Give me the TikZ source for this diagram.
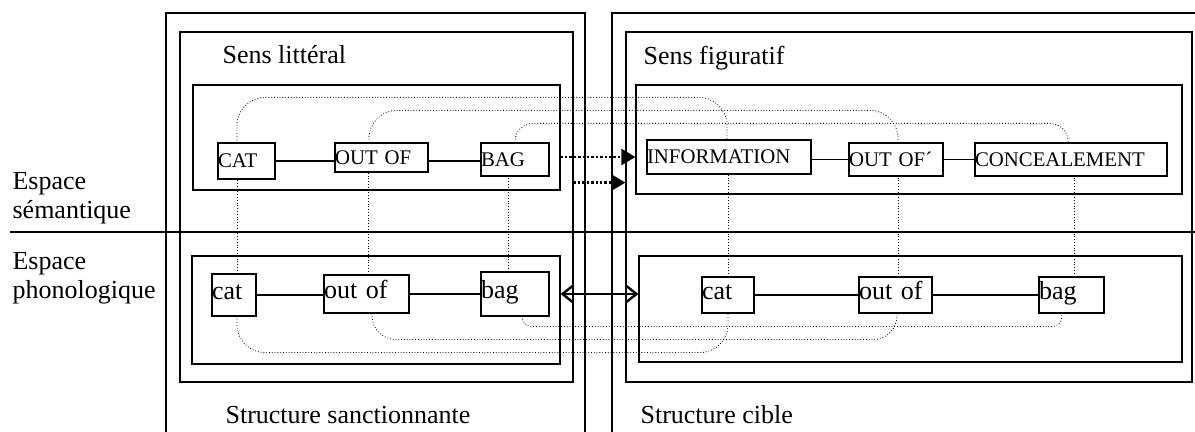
\documentclass[tikz,border=0pt]{standalone}
\usepackage{fontspec}
\setmainfont{Liberation Serif}
\usetikzlibrary{arrows.meta}

\begin{document}
\begin{tikzpicture}[
    x=0.5pt, y=-0.5pt,
    line width=0.6pt,
    font=\fontsize{13}{14.5}\selectfont,
    frame/.style={draw, inner sep=0pt},
    word/.style={draw, inner xsep=0pt, inner ysep=0pt, align=left, text height=0.8em, text depth=0.1em, font=\fontsize{10.4}{12}\selectfont},
    sound/.style={word, text height=0.7em, text depth=0.2em, font=\fontsize{13}{14.5}\selectfont},
    heading/.style={inner sep=0pt},
    link/.style={line width=0.4pt, densely dotted, rounded corners=14pt},
    dotarrow/.style={line width=1.2pt, densely dotted, -{Triangle[length=7pt, width=8pt]}},
    twoway/.style={line width=1.2pt, {Straight Barb[length=5pt, width=8pt]}-{Straight Barb[length=5pt, width=8pt]}}
]
   \useasboundingbox (0,0) rectangle (1195,432);

   % Structures
   \draw (166,432) |- (585,13) -- (585,432);
   \draw (612,432) |- (1195,13);
   \node[frame, minimum width=196.5pt, minimum height=175pt] (litB) at (376.5,207) {};
   \node[frame, minimum width=283pt, minimum height=175pt] (figB) at (909,207) {};
   \node[frame, minimum width=183.5pt, minimum height=52.5pt] (litS) at (376.5,137.5) {};
   \node[frame, minimum width=273pt, minimum height=54.5pt] (figS) at (909,139.5) {};
   \node[frame, minimum width=184pt, minimum height=54pt] (litP) at (376,310) {};
   \node[frame, minimum width=271.5pt, minimum height=53pt] (figP) at (910.5,309) {};
   \draw (10,232) -- (1195,232);

   % Titles
   \node[heading, anchor=base west] (sensL) at (222,64) {Sens littéral};
   \node[heading, anchor=base west] (sensF) at (643,65) {Sens figuratif};
   \node[heading, anchor=west, align=left] (espS) at (12,198) {Espace\\sémantique};
   \node[heading, anchor=west, align=left] (espP) at (12,278) {Espace\\phonologique};
   \node[heading, anchor=base west] (strL) at (225,424) {Structure sanctionnante};
   \node[heading, anchor=base west] (strC) at (640,424) {Structure cible};

   % Semantic units
   \node[word, text width=28.5pt, minimum height=18pt] (CAT) at (246.5,161) {CAT};
   \node[word, text width=46.5pt, minimum height=14.5pt] (OUT) at (381.5,157.5) {OUT OF};
   \node[word, text width=34pt, minimum height=16.5pt] (BAG) at (515,159.5) {BAG};
   \node[word, text width=82pt, minimum height=17pt] (INF) at (729,157) {INFORMATION};
   \node[word, text width=47pt, minimum height=16.5pt] (OUTF) at (896,159.5) {OUT OF´};
   \node[word, text width=96pt, minimum height=16.5pt] (CON) at (1071,159.5) {CONCEALEMENT};

   % Phonological units
   \node[sound, text width=22pt, minimum height=21pt] (catL) at (234,295) {cat};
   \node[sound, text width=42.5pt, minimum height=19pt] (outL) at (366.5,294) {out of};
   \node[sound, text width=34pt, minimum height=22pt] (bagL) at (515,294) {bag};
   \node[sound, text width=26pt, minimum height=18pt] (catR) at (728,295) {cat};
   \node[sound, text width=36.5pt, minimum height=18pt] (outR) at (895.5,295) {out of};
   \node[sound, text width=32.5pt, minimum height=18pt] (bagR) at (1071.5,295) {bag};

   % Sequences
   \draw (CAT.east) -- (CAT.east -| OUT.west);
   \draw (CAT.east -| OUT.east) -- (CAT.east -| BAG.west);
   \draw (OUTF.west -| INF.east) -- (OUTF.west);
   \draw (OUTF.east) -- (CON.west);
   \draw (catL.east) -- (catL.east -| outL.west);
   \draw (outL.east) -- (outL.east -| bagL.west);
   \draw (catR.east) -- (outR.west);
   \draw (outR.east) -- (bagR.west);

   % Symbolic links
   \draw[link] ([xshift=1.5pt]catL.north) -- ([xshift=1.5pt]catL.north |- CAT.south);
   \draw[link] ([xshift=1pt]outL.north) -- ([xshift=1pt]outL.north |- OUT.south);
   \draw[link] ([xshift=-3.5pt]bagL.north) -- ([xshift=-3.5pt]bagL.north |- BAG.south);
   \draw[link] (catR.north) -- (catR.north |- INF.south);
   \draw[link] ([xshift=1.5pt]outR.north) -- ([xshift=1.5pt]outR.north |- OUTF.south);
   \draw[link] ([xshift=1.25pt]bagR.north) -- ([xshift=1.25pt]bagR.north |- CON.south);

   % Correspondences
   \draw[link] ([xshift=-4.75pt]CAT.north) -- ++(0,-45) -| ([xshift=-1pt]INF.north);
   \draw[link] ([xshift=-6.25pt]OUT.north) -- ++(0,-32) -| ([xshift=1pt]OUTF.north);
   \draw[link, rounded corners=9pt] (BAG.north) -- ++(0,-19) -| ([xshift=-1.5pt]CON.north);
   \draw[link] ([xshift=1.5pt]catL.south) -- ++(0,36) -| (catR.south);
   \draw[link, rounded corners=12pt] ([xshift=2.75pt]outL.south) -- ++(0,26) -| ([xshift=0.75pt]outR.south);
   \draw[link, rounded corners=5pt] ([xshift=3.5pt]bagL.south) -- ++(0,10) -| ([xshift=-4.75pt]bagR.south);

   % Mappings
   \draw[dotarrow] (litS.east |- INF) -- (figS.west |- INF);
   \draw[dotarrow] ([yshift=-1.5pt]litB.east |- CAT.south) -- ([yshift=-1.5pt]figB.west |- CAT.south);
   \draw[twoway] (litP.east |- bagL) -- (figP.west |- bagL);
\end{tikzpicture}
\end{document}
